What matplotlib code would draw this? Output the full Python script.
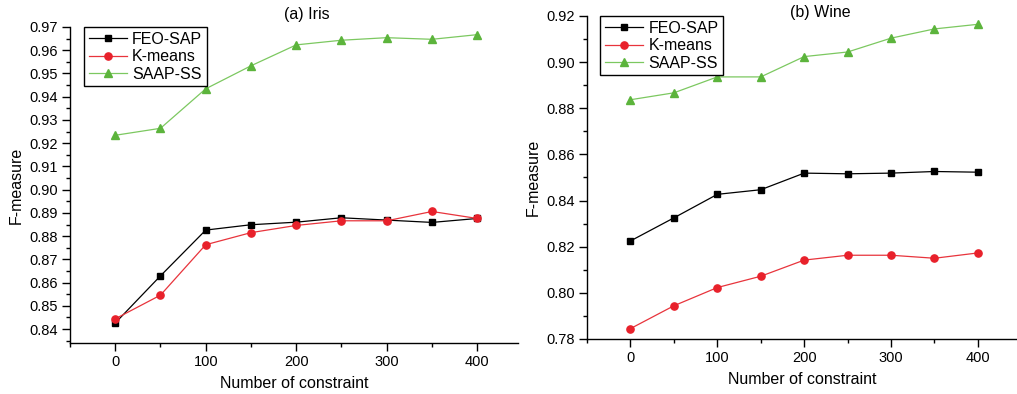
import matplotlib
matplotlib.use("Agg")
import matplotlib.pyplot as plt
from matplotlib.ticker import MultipleLocator, FormatStrFormatter

plt.rcParams['font.family'] = ['Liberation Sans', 'DejaVu Sans']

# ---------------------------------------------------------------------------
# Data
# ---------------------------------------------------------------------------
constraints = [0, 50, 100, 150, 200, 250, 300, 350, 400]

iris_feo = [0.8426, 0.8629, 0.8826, 0.8849, 0.8860, 0.8879, 0.8869, 0.8859, 0.8876]
iris_kmeans = [0.8444, 0.8546, 0.8763, 0.8815, 0.8846, 0.8866, 0.8866, 0.8906, 0.8876]
iris_saap = [0.9234, 0.9264, 0.9434, 0.9533, 0.9623, 0.9643, 0.9654, 0.9647, 0.9667]

wine_feo = [0.8225, 0.8325, 0.8427, 0.8447, 0.8519, 0.8516, 0.8519, 0.8526, 0.8523]
wine_kmeans = [0.7845, 0.7944, 0.8023, 0.8072, 0.8142, 0.8163, 0.8163, 0.8150, 0.8173]
wine_saap = [0.8837, 0.8867, 0.8936, 0.8936, 0.9024, 0.9044, 0.9104, 0.9144, 0.9164]

series_names = ["FEO-SAP", "K-means", "SAAP-SS"]

# line colour, marker, marker size, marker colour
STYLES = [
    ("black", "s", 4.6, "black"),
    ("#e8343c", "o", 5.2, "#e8212b"),
    ("#7cc860", "^", 6.0, "#5cb43c"),
]


def draw_panel(ax, ys, ylim, major, minor):
    for (lc, mk, ms, mc), y, name in zip(STYLES, ys, series_names):
        ax.plot(constraints, y, color=lc, lw=0.9, marker=mk, ms=ms,
                mfc=mc, mec=mc, label=name)
    ax.set_xlim(-50, 445)
    ax.set_ylim(*ylim)
    ax.xaxis.set_major_locator(MultipleLocator(100))
    ax.xaxis.set_minor_locator(MultipleLocator(50))
    ax.yaxis.set_major_locator(MultipleLocator(major))
    ax.yaxis.set_minor_locator(MultipleLocator(minor))
    ax.yaxis.set_major_formatter(FormatStrFormatter("%.2f"))
    for s in ("top", "right"):
        ax.spines[s].set_visible(False)
    for s in ("left", "bottom"):
        ax.spines[s].set_linewidth(1.0)
    ax.tick_params(which="major", length=6, width=1.0, labelsize=10.5,
                   direction="out", pad=2.5)
    ax.tick_params(which="minor", length=3, width=1.0, direction="out")
    ax.set_xlabel("Number of constraint", fontsize=11.5, labelpad=5)
    ax.set_ylabel("F-measure", fontsize=11.5, labelpad=4)
    leg = ax.legend(loc="upper left", bbox_to_anchor=(0.031, 1.0),
                    borderaxespad=0, fontsize=11.5,
                    handlelength=2.4, handletextpad=0.3, borderpad=0.3,
                    labelspacing=0.15, fancybox=False, edgecolor="black",
                    framealpha=1)
    leg.get_frame().set_linewidth(1.0)


fig = plt.figure(figsize=(10.17, 3.94), dpi=100)
ax1 = fig.add_axes([0.0688, 0.1294, 0.4405, 0.8021])
ax2 = fig.add_axes([0.5772, 0.1396, 0.4228, 0.8198])

draw_panel(ax1, [iris_feo, iris_kmeans, iris_saap], (0.834, 0.97), 0.01, 0.005)
draw_panel(ax2, [wine_feo, wine_kmeans, wine_saap], (0.78, 0.92), 0.02, 0.01)

fig.text(307 / 1017, 1 - 15 / 394, "(a) Iris", fontsize=11.5, ha="center", va="center")
fig.text(820 / 1017, 1 - 13 / 394, "(b) Wine", fontsize=11.5, ha="center", va="center")

fig.savefig("out.png", dpi=100)
